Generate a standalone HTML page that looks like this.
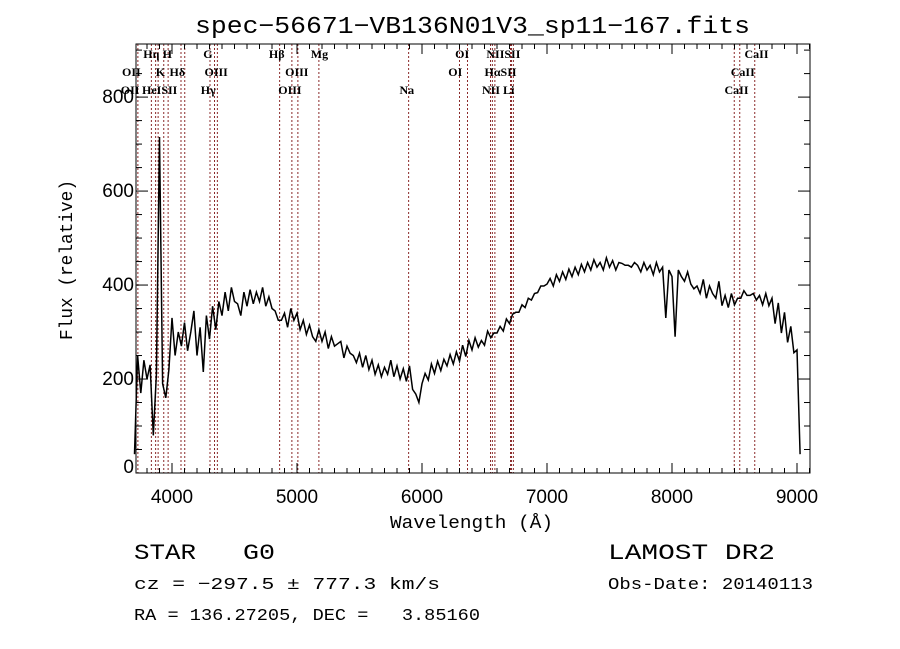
<!DOCTYPE html>
<html><head><meta charset="utf-8"><style>
body{margin:0;background:#fff;width:900px;height:649px;overflow:hidden}
svg{display:block}
.t{font-family:"Liberation Sans",sans-serif;fill:#000}
.m{font-family:"Liberation Mono",monospace;fill:#000}
.l{font-family:"Liberation Serif",serif;font-size:12px;font-weight:bold;fill:#000}
</style></head><body>
<svg id="chart" width="900" height="649" xmlns="http://www.w3.org/2000/svg">
<rect width="900" height="649" fill="#fff"/>
<text class="m" x="195" y="33" font-size="24" textLength="555" lengthAdjust="spacingAndGlyphs">spec−56671−VB136N01V3_sp11−167.fits</text>
<g id="lines"></g>
<g id="labels"></g>
<path id="spec" fill="none" stroke="#000" stroke-width="1.5"/>
<g id="axes"></g>
<text class="m" x="390" y="528" font-size="18" textLength="163" lengthAdjust="spacingAndGlyphs">Wavelength (Å)</text>
<text class="m" transform="translate(72,340) rotate(-90)" font-size="18" textLength="160" lengthAdjust="spacingAndGlyphs">Flux (relative)</text>
<text class="m" x="134" y="559" font-size="22" textLength="62" lengthAdjust="spacingAndGlyphs">STAR</text>
<text class="m" x="243" y="559" font-size="22" textLength="32" lengthAdjust="spacingAndGlyphs">G0</text>
<text class="m" x="608" y="559" font-size="22" textLength="167" lengthAdjust="spacingAndGlyphs">LAMOST DR2</text>
<text class="m" x="134" y="589" font-size="17" textLength="306" lengthAdjust="spacingAndGlyphs">cz = −297.5 ± 777.3 km/s</text>
<text class="m" x="608" y="589" font-size="17" textLength="205" lengthAdjust="spacingAndGlyphs">Obs-Date: 20140113</text>
<text class="m" x="134" y="620" font-size="17" textLength="346" lengthAdjust="spacingAndGlyphs" xml:space="preserve">RA = 136.27205, DEC =   3.85160</text>
</svg>
<script>
const waveStart = 3700;
const waveStep = 25;
const flux = [40,250,170,240,200,230,80,210,715,190,160,220,
330,250,300,270,320,260,300,345,250,310,215,335,285,355,305,365,335,385,345,395,365,360,335,385,355,390,360,385,
365,395,355,375,350,345,325,325,340,310,350,325,340,305,325,295,315,290,280,305,280,300,265,290,270,275,280,245,270,255,
250,235,255,225,250,220,240,210,230,205,225,210,240,205,228,200,222,195,228,178,168,150,190,212,198,232,212,238,218,242,
228,252,232,258,238,272,248,282,262,288,268,282,272,302,288,298,298,312,302,328,318,338,342,342,358,352,372,368,382,384,
398,398,402,414,398,422,408,428,412,434,418,438,422,444,428,448,432,454,438,448,432,458,438,452,432,448,446,442,442,438,
448,442,428,448,432,442,422,448,428,438,330,432,418,290,432,418,408,428,402,392,398,382,412,372,398,382,372,408,356,378,
352,382,358,372,372,388,378,378,382,368,378,358,382,356,372,318,362,298,342,278,312,256,262,40];
const lineWaves = [3727,3835,3869,3889,3934,3969,4072,4102,4304,4340,4363,4861,4959,5007,5175,5893,6300,6364,6548,6563,6583,6708,6716,6731,8498,8542,8662];
const labelTexts = ["Hη","H","G","Hβ","Mg","OI","NIISII","CaII","OII","K","Hδ","OIII","OIII","OI","HαSII","CaII","OII","HeISII","Hγ","OIII","Na","NII Li","CaII"];
const labelWaves = [3770,3925,4250,4775,5110,6265,6515,8580,3600,3870,3980,4260,4905,6210,6500,8470,3590,3760,4230,4850,5820,6480,8420];
const labelRows = [0,0,0,0,0,0,0,0,1,1,1,1,1,1,1,1,2,2,2,2,2,2,2];
const xTicks = [4000,5000,6000,7000,8000,9000];
const yTicks = [0,200,400,600,800];

const L=136,R=810,T=44,B=473;
const xMin=3712,xMax=9104,yMin=0,yMax=913;
const xs=w=>L+(w-xMin)/(xMax-xMin)*(R-L);
const ys=f=>B-(f-yMin)/(yMax-yMin)*(B-T);
const NS="http://www.w3.org/2000/svg";
function mk(tag,parent){const e=document.createElementNS(NS,tag);parent.appendChild(e);return e;}

const gl=document.getElementById('lines');
lineWaves.forEach(w=>{const e=mk('line',gl);


e.setAttribute('x1',xs(w));e.setAttribute('x2',xs(w));e.setAttribute('y1',T);e.setAttribute('y2',B);
e.setAttribute('stroke','#8b2a2a');e.setAttribute('stroke-width','1');e.setAttribute('stroke-dasharray','2,2');});

const glb=document.getElementById('labels');
const rowY=[58,76,94];
labelTexts.forEach((t,i)=>{const e=mk('text',glb);


e.setAttribute('class','l');e.setAttribute('x',xs(labelWaves[i]));e.setAttribute('y',rowY[labelRows[i]]);
e.textContent=t;});

let d='';
flux.forEach((f,i)=>{const w=waveStart+i*waveStep;d+=(i?'L':'M')+xs(w).toFixed(1)+','+ys(f).toFixed(1);});
document.getElementById('spec').setAttribute('d',d);

const ga=document.getElementById('axes');
const box=mk('rect',ga);


box.setAttribute('x',L);box.setAttribute('y',T);box.setAttribute('width',R-L);box.setAttribute('height',B-T);
box.setAttribute('fill','none');box.setAttribute('stroke','#000');box.setAttribute('stroke-width','1');
function tick(x1,y1,x2,y2){const e=mk('line',ga);


e.setAttribute('x1',x1);e.setAttribute('y1',y1);e.setAttribute('x2',x2);e.setAttribute('y2',y2);e.setAttribute('stroke','#000');}
for(let w=3800;w<=9100;w+=100){const x=xs(w);const len=(w%1000===0)?10:5;tick(x,B,x,B-len);tick(x,T,x,T+len);}
for(let f=0;f<=900;f+=50){const y=ys(f);const len=(f%200===0)?12:6;tick(L,y,L+len,y);tick(R,y,R-len,y);}
xTicks.forEach(w=>{const e=mk('text',ga);


e.setAttribute('class','t');e.setAttribute('font-size','19');e.setAttribute('text-anchor','middle');
e.setAttribute('x',xs(w));e.setAttribute('y',B+30);e.textContent=w;});
yTicks.forEach(f=>{const e=mk('text',ga);


e.setAttribute('class','t');e.setAttribute('font-size','19');e.setAttribute('text-anchor','end');
e.setAttribute('x',L-2);e.setAttribute('y',ys(f)+(f===0?0:6));e.textContent=f;});
</script>
</body></html>
